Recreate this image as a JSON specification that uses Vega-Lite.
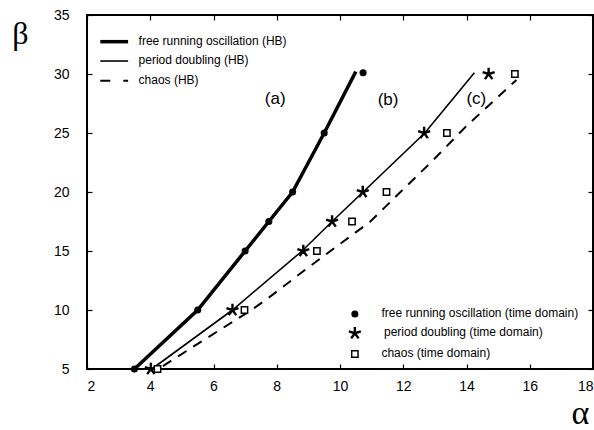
{
  "$schema": "https://vega.github.io/schema/vega-lite/v6.json",
  "width": 506,
  "height": 354,
  "autosize": {"type": "none"},
  "padding": {"left": 87, "top": 15, "right": 1, "bottom": 61},
  "background": "white",
  "config": {
    "view": {"stroke": "black", "strokeWidth": 2},
    "axis": {
      "domain": false,
      "ticks": true,
      "tickColor": "black",
      "tickWidth": 1.2,
      "tickSize": 5,
      "offset": -5,
      "labelColor": "black",
      "labelFont": "Liberation Sans",
      "labelFontSize": 14,
      "grid": false
    }
  },
  "datasets": {
    "lines": [
      {"series": "a", "x": 3.5, "y": 5},
      {"series": "a", "x": 5.5, "y": 10},
      {"series": "a", "x": 7.0, "y": 15},
      {"series": "a", "x": 7.75, "y": 17.5},
      {"series": "a", "x": 8.5, "y": 20},
      {"series": "a", "x": 9.5, "y": 25},
      {"series": "a", "x": 10.5, "y": 30.2},
      {"series": "La", "x": 2.42, "y": 32.74},
      {"series": "La", "x": 3.3, "y": 32.74},
      {"series": "b", "x": 4.05, "y": 5},
      {"series": "b", "x": 6.6, "y": 10},
      {"series": "b", "x": 8.8, "y": 15},
      {"series": "b", "x": 9.75, "y": 17.5},
      {"series": "b", "x": 10.73, "y": 20},
      {"series": "b", "x": 12.68, "y": 25},
      {"series": "b", "x": 14.25, "y": 30.1},
      {"series": "Lb", "x": 2.42, "y": 31.1},
      {"series": "Lb", "x": 3.3, "y": 31.1},
      {"series": "c", "x": 4.4, "y": 5.25},
      {"series": "c", "x": 5.6, "y": 7.3},
      {"series": "c", "x": 7.2, "y": 10.0},
      {"series": "c", "x": 7.79, "y": 11.13},
      {"series": "c", "x": 8.89, "y": 13.39},
      {"series": "c", "x": 10.95, "y": 17.48},
      {"series": "c", "x": 12.95, "y": 22.71},
      {"series": "c", "x": 14.0, "y": 25.6},
      {"series": "c", "x": 15.58, "y": 29.5},
      {"series": "Lc", "x": 2.42, "y": 29.43},
      {"series": "Lc", "x": 3.3, "y": 29.43}
    ],
    "points": [
      {"type": "circle", "x": 3.5, "y": 5},
      {"type": "circle", "x": 5.5, "y": 10},
      {"type": "circle", "x": 7.0, "y": 15},
      {"type": "circle", "x": 7.75, "y": 17.5},
      {"type": "circle", "x": 8.5, "y": 20},
      {"type": "circle", "x": 9.5, "y": 25},
      {"type": "circle", "x": 10.73, "y": 30.1},
      {"type": "circle", "x": 10.47, "y": 9.66},
      {"type": "star", "x": 4.02, "y": 5},
      {"type": "star", "x": 6.6, "y": 10},
      {"type": "star", "x": 8.84, "y": 15},
      {"type": "star", "x": 9.75, "y": 17.5},
      {"type": "star", "x": 10.72, "y": 20},
      {"type": "star", "x": 12.66, "y": 25},
      {"type": "star", "x": 14.7, "y": 30},
      {"type": "star", "x": 10.47, "y": 8.03},
      {"type": "square", "x": 4.23, "y": 5},
      {"type": "square", "x": 6.98, "y": 10},
      {"type": "square", "x": 9.27, "y": 15},
      {"type": "square", "x": 10.38, "y": 17.5},
      {"type": "square", "x": 11.47, "y": 20},
      {"type": "square", "x": 13.38, "y": 25},
      {"type": "square", "x": 15.53, "y": 30},
      {"type": "square", "x": 10.47, "y": 6.27}
    ],
    "legendText": [
      {"label": "free running oscillation (HB)", "x": 3.63, "y": 32.8},
      {"label": "period doubling (HB)", "x": 3.63, "y": 31.2},
      {"label": "chaos (HB)", "x": 3.63, "y": 29.5},
      {"label": "free running oscillation (time domain)", "x": 11.31, "y": 9.77},
      {"label": "period doubling (time domain)", "x": 11.39, "y": 8.16},
      {"label": "chaos (time domain)", "x": 11.31, "y": 6.38}
    ],
    "curveLabels": [
      {"label": "(a)", "x": 7.95, "y": 27.86},
      {"label": "(b)", "x": 11.52, "y": 27.8},
      {"label": "(c)", "x": 14.31, "y": 27.86}
    ]
  },
  "layer": [
    {
      "data": {"name": "lines"},
      "transform": [{"filter": "datum.series == 'a' || datum.series == 'La'"}],
      "mark": {"type": "line", "color": "black", "strokeWidth": 3.5},
      "encoding": {
        "x": {"field": "x", "type": "quantitative", "scale": {"domain": [2, 18], "nice": false, "zero": false},
              "axis": {"values": [2, 4, 6, 8, 10, 12, 14, 16, 18], "title": "α", "labelPadding": 10,
                       "titleFont": "Liberation Serif", "titleFontSize": 34, "titleFontWeight": "normal", "titleColor": "black",
                       "titleX": 493, "titleY": 66, "titleAlign": "center", "titleBaseline": "bottom"}},
        "y": {"field": "y", "type": "quantitative", "scale": {"domain": [5, 35], "nice": false, "zero": false},
              "axis": {"values": [5, 10, 15, 20, 25, 30, 35], "title": "β", "labelPadding": 18,
                       "titleFont": "Liberation Serif", "titleFontSize": 32, "titleFontWeight": "normal", "titleColor": "black",
                       "titleAngle": 0, "titleX": -72, "titleY": 18, "titleAlign": "center", "titleBaseline": "middle"}},
        "detail": {"field": "series"}
      }
    },
    {
      "data": {"name": "lines"},
      "transform": [{"filter": "datum.series == 'b' || datum.series == 'Lb'"}],
      "mark": {"type": "line", "color": "black", "strokeWidth": 1.6},
      "encoding": {
        "x": {"field": "x", "type": "quantitative", "axis": null},
        "y": {"field": "y", "type": "quantitative", "axis": null},
        "detail": {"field": "series"}
      }
    },
    {
      "data": {"name": "lines"},
      "transform": [{"filter": "datum.series == 'c'"}],
      "mark": {"type": "line", "color": "black", "strokeWidth": 2, "strokeDash": [10, 8]},
      "encoding": {
        "x": {"field": "x", "type": "quantitative", "axis": null},
        "y": {"field": "y", "type": "quantitative", "axis": null}
      }
    },
    {
      "data": {"name": "lines"},
      "transform": [{"filter": "datum.series == 'Lc'"}],
      "mark": {"type": "line", "color": "black", "strokeWidth": 2, "strokeDash": [10, 13]},
      "encoding": {
        "x": {"field": "x", "type": "quantitative", "axis": null},
        "y": {"field": "y", "type": "quantitative", "axis": null}
      }
    },
    {
      "data": {"name": "points"},
      "transform": [{"filter": "datum.type == 'circle'"}],
      "mark": {"type": "point", "shape": "circle", "filled": true, "color": "black", "opacity": 1, "size": 50},
      "encoding": {
        "x": {"field": "x", "type": "quantitative", "axis": null},
        "y": {"field": "y", "type": "quantitative", "axis": null}
      }
    },
    {
      "data": {"name": "points"},
      "transform": [{"filter": "datum.type == 'star'"}],
      "mark": {"type": "point", "shape": "M0,0L0,-1M0,0L0.951,-0.309M0,0L0.588,0.809M0,0L-0.588,0.809M0,0L-0.951,-0.309",
               "filled": false, "stroke": "black", "strokeWidth": 2.4, "opacity": 1, "size": 160, "strokeCap": "butt"},
      "encoding": {
        "x": {"field": "x", "type": "quantitative", "axis": null},
        "y": {"field": "y", "type": "quantitative", "axis": null}
      }
    },
    {
      "data": {"name": "points"},
      "transform": [{"filter": "datum.type == 'square'"}],
      "mark": {"type": "point", "shape": "square", "filled": true, "fill": "white", "stroke": "black", "strokeWidth": 1.5, "opacity": 1, "size": 40},
      "encoding": {
        "x": {"field": "x", "type": "quantitative", "axis": null},
        "y": {"field": "y", "type": "quantitative", "axis": null}
      }
    },
    {
      "data": {"name": "legendText"},
      "mark": {"type": "text", "align": "left", "baseline": "middle", "font": "Liberation Sans", "fontSize": 12, "color": "black"},
      "encoding": {
        "x": {"field": "x", "type": "quantitative",
              "axis": {"orient": "top", "values": [2, 4, 6, 8, 10, 12, 14, 16, 18], "labels": false, "title": null}},
        "y": {"field": "y", "type": "quantitative",
              "axis": {"orient": "right", "values": [5, 10, 15, 20, 25, 30, 35], "labels": false, "title": null}},
        "text": {"field": "label"}
      }
    },
    {
      "data": {"name": "curveLabels"},
      "mark": {"type": "text", "align": "center", "baseline": "middle", "font": "Liberation Sans", "fontSize": 17, "color": "black"},
      "encoding": {
        "x": {"field": "x", "type": "quantitative", "axis": null},
        "y": {"field": "y", "type": "quantitative", "axis": null},
        "text": {"field": "label"}
      }
    }
  ],
  "resolve": {"axis": {"x": "independent", "y": "independent"}}
}
